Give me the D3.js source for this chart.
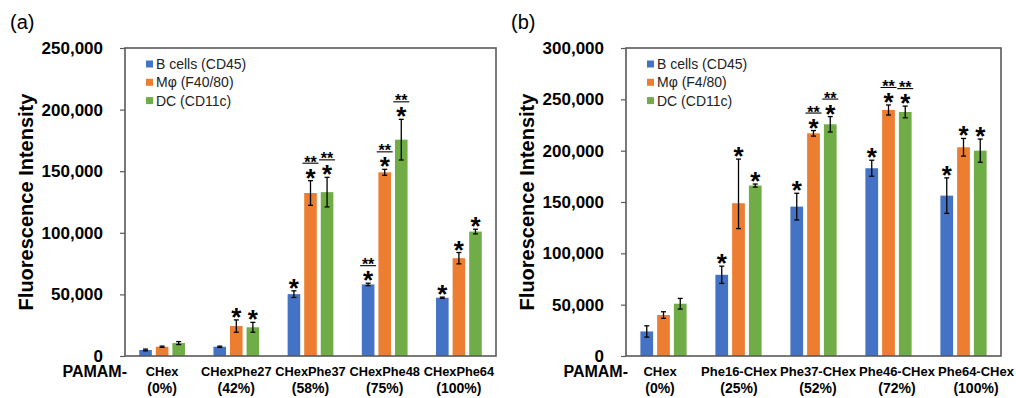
<!DOCTYPE html>
<html>
<head>
<meta charset="utf-8">
<script src="https://cdn.jsdelivr.net/npm/d3@7"></script>
<style>
  body { margin: 0; background: #fff; }
  svg { display: block; font-family: Arial, "Liberation Sans", sans-serif; }
</style>
</head>
<body>
<div id="chart"></div>
<script>
// ---- data ----
const seriesNames = ['B cells (CD45)', 'Mφ (F40/80)', 'DC (CD11c)'];
const seriesNamesB = ['B cells (CD45)', 'Mφ (F4/80)', 'DC (CD11c)'];
const colors = ['#4472C4', '#ED7D31', '#70AD47'];

// panel (a)
const catsA = ['CHex', 'CHexPhe27', 'CHexPhe37', 'CHexPhe48', 'CHexPhe64'];
const pctA = ['(0%)', '(42%)', '(58%)', '(75%)', '(100%)'];
const ticksA = [0, 50000, 100000, 150000, 200000, 250000];
const bcellA = [4900, 7500, 50200, 58100, 47300];
const bcellErrA = [700, 500, 2700, 1000, 500];
const macroA = [7500, 24300, 132300, 149100, 79400];
const macroErrA = [500, 5000, 10000, 2400, 4600];
const dcA = [10500, 23300, 133000, 175600, 101000];
const dcErrA = [1200, 4000, 12000, 16500, 1900];
// 0 = none, 1 = "*", 2 = "*" with "**" above
const bcellSigA = [0, 0, 1, 2, 1];
const macroSigA = [0, 1, 2, 2, 1];
const dcSigA = [0, 1, 2, 2, 1];

// panel (b)
const catsB = ['CHex', 'Phe16-CHex', 'Phe37-CHex', 'Phe46-CHex', 'Phe64-CHex'];
const pctB = ['(0%)', '(25%)', '(52%)', '(72%)', '(100%)'];
const ticksB = [0, 50000, 100000, 150000, 200000, 250000, 300000];
const bcellB = [23900, 79100, 145500, 182900, 156200];
const bcellErrB = [5500, 8400, 13000, 7800, 17300];
const macroB = [39900, 148800, 216900, 239600, 203300];
const macroErrB = [3200, 43000, 2700, 4900, 8600];
const macroErrLoB = [3200, 24700, 2700, 4900, 8600];
const dcB = [50900, 166000, 225700, 237700, 200000];
const dcErrB = [5200, 1500, 7500, 5700, 11300];
const bcellSigB = [0, 1, 1, 1, 1];
const macroSigB = [0, 1, 2, 2, 1];
const dcSigB = [0, 1, 2, 2, 1];

const W = 1016, H = 398;
const svg = d3.select('#chart').append('svg')
  .attr('width', W).attr('height', H);

function drawPanel(p) {
  const g = svg.append('g');
  const x0 = d3.scaleBand().domain(p.cats).range([p.left, p.right])
    .paddingInner(0.33).paddingOuter(0.165);
  const x1 = d3.scaleBand().domain([0, 1, 2]).range([0, x0.bandwidth()])
    .paddingInner(0.24).paddingOuter(0.12);
  const y = d3.scaleLinear().domain([0, p.ymax]).range([p.bottom, p.top]);
  // category labels sit on their own point scale (spread a bit wider in (b))
  const xl = p.labelRange
    ? d3.scalePoint().domain(p.cats).range(p.labelRange)
    : (c => x0(c) + x0.bandwidth() / 2);

  // y axis
  const ax = g.append('g')
    .attr('transform', `translate(${p.left},0)`)
    .call(d3.axisLeft(y).tickValues(p.ticks).tickSize(5).tickPadding(17)
      .tickFormat(d3.format(',')));
  ax.select('.domain').remove();
  ax.selectAll('.tick line').attr('stroke', '#595959').attr('stroke-width', 1.2);
  ax.selectAll('.tick text')
    .attr('fill', '#000')
    .style('font-size', '17px')
    .style('font-weight', 'bold')
    .style('font-family', 'Arial, "Liberation Sans", sans-serif');

  // bars, error bars, significance marks
  p.series.forEach((s, si) => {
    p.cats.forEach((c, ci) => {
      const bx = x0(c) + x1(si);
      const bw = x1.bandwidth();
      const v = s.values[ci];
      g.append('rect')
        .attr('x', bx).attr('y', y(v))
        .attr('width', bw).attr('height', y(0) - y(v))
        .attr('fill', colors[si]);

      const cx = bx + bw / 2;
      const hi = y(v + s.errHi[ci]);
      const lo = y(v - s.errLo[ci]);
      g.append('line').attr('x1', cx).attr('x2', cx).attr('y1', hi).attr('y2', lo)
        .attr('stroke', '#000').attr('stroke-width', 1.3);
      [hi, lo].forEach(yy => {
        g.append('line').attr('x1', cx - 2.5).attr('x2', cx + 2.5)
          .attr('y1', yy).attr('y2', yy)
          .attr('stroke', '#000').attr('stroke-width', 1.3);
      });

      const sig = s.sig[ci];
      if (sig > 0) {
        const starC = hi - 9;
        g.append('text')
          .attr('x', cx).attr('y', starC + 15)
          .attr('text-anchor', 'middle')
          .style('font-size', '26px').style('font-weight', 'bold')
          .text('*');
        if (sig === 2) {
          const dC = starC - 13;
          g.append('text')
            .attr('x', cx).attr('y', dC + 9)
            .attr('text-anchor', 'middle')
            .style('font-size', '16px').style('font-weight', 'bold')
            .text('**');
          g.append('line')
            .attr('x1', cx - 8).attr('x2', cx + 8)
            .attr('y1', dC + 4.5).attr('y2', dC + 4.5)
            .attr('stroke', '#000').attr('stroke-width', 1.1);
        }
      }
    });
  });

  // frame
  g.append('rect')
    .attr('x', p.left).attr('y', p.top)
    .attr('width', p.right - p.left).attr('height', p.bottom - p.top)
    .attr('fill', 'none').attr('stroke', '#595959').attr('stroke-width', 1.6);

  // legend
  p.names.forEach((n, i) => {
    const ly = 64 + i * 18.3;
    g.append('rect')
      .attr('x', p.left + 21).attr('y', ly - 3.5)
      .attr('width', 7).attr('height', 7)
      .attr('fill', colors[i]);
    g.append('text')
      .attr('x', p.left + 31).attr('y', ly + 5)
      .style('font-size', '14px')
      .attr('fill', '#222')
      .text(n);
  });

  // category labels
  p.cats.forEach((c, ci) => {
    const cx = xl(c);
    g.append('text').attr('x', cx).attr('y', 376)
      .attr('text-anchor', 'middle')
      .style('font-size', p.labelSize).style('font-weight', 'bold')
      .text(c);
    g.append('text').attr('x', cx).attr('y', 393)
      .attr('text-anchor', 'middle')
      .style('font-size', '14px').style('font-weight', 'bold')
      .text(p.pct[ci]);
  });
  g.append('text').attr('x', p.left + 2).attr('y', 377)
    .attr('text-anchor', 'end')
    .style('font-size', '16px').style('font-weight', 'bold')
    .text('PAMAM-');

  // y title
  g.append('text')
    .attr('transform', `translate(${p.left - 92},${(p.top + p.bottom) / 2}) rotate(-90)`)
    .attr('text-anchor', 'middle')
    .style('font-size', '20px').style('font-weight', 'bold')
    .text('Fluorescence Intensity');

  // panel label
  g.append('text')
    .attr('x', p.left - 115).attr('y', 29)
    .style('font-size', '20px')
    .text(p.label);
}

drawPanel({
  label: '(a)', left: 125, right: 496, top: 48, bottom: 356, ymax: 250000,
  cats: catsA, pct: pctA, ticks: ticksA, names: seriesNames, labelSize: '12.8px',
  series: [
    { values: bcellA, errHi: bcellErrA, errLo: bcellErrA, sig: bcellSigA },
    { values: macroA, errHi: macroErrA, errLo: macroErrA, sig: macroSigA },
    { values: dcA, errHi: dcErrA, errLo: dcErrA, sig: dcSigA }
  ]
});

drawPanel({
  label: '(b)', left: 626, right: 1001, top: 48, bottom: 356, ymax: 300000,
  cats: catsB, pct: pctB, ticks: ticksB, names: seriesNamesB, labelSize: '13px',
  labelRange: [660, 976],
  series: [
    { values: bcellB, errHi: bcellErrB, errLo: bcellErrB, sig: bcellSigB },
    { values: macroB, errHi: macroErrB, errLo: macroErrLoB, sig: macroSigB },
    { values: dcB, errHi: dcErrB, errLo: dcErrB, sig: dcSigB }
  ]
});
</script>
</body>
</html>
